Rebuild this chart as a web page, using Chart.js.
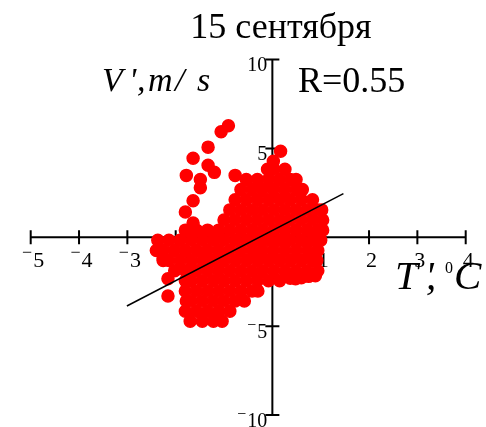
<!DOCTYPE html>
<html>
<head>
<meta charset="utf-8">
<script src="https://cdn.jsdelivr.net/npm/chart.js@4/dist/chart.umd.min.js"></script>
<style>
  html, body { margin: 0; padding: 0; background: #fff; }
  canvas { display: block; }
</style>
</head>
<body>
<canvas id="chart" width="486" height="427"></canvas>
<script>
// ticks
const xTicks = [-5, -4, -3, -2, -1, 1, 2, 3, 4];
const yTicks = [-10, -5, 5, 10];

// dense core of the cloud, one row of T' values per V' level
const rowV = [3.82, 3.25, 2.68, 2.11, 1.54, 0.97, 0.40, -0.17, -0.74, -1.31, -1.88, -2.45, -3.02, -3.59, -4.16, -4.73];
const rowT = [
  [-0.10, 0.03, 0.26],
  [-0.54, -0.31, -0.08, 0.15, 0.37, 0.49],
  [-0.65, -0.42, -0.20, 0.03, 0.26, 0.49, 0.62],
  [-0.77, -0.54, -0.31, -0.08, 0.15, 0.37, 0.60, 0.83],
  [-0.88, -0.65, -0.42, -0.20, 0.03, 0.26, 0.49, 0.72, 0.94, 1.02],
  [-1.00, -0.77, -0.54, -0.31, -0.08, 0.15, 0.37, 0.60, 0.83, 1.04],
  [-1.80, -1.57, -1.34, -1.11, -0.88, -0.65, -0.42, -0.20, 0.03, 0.26, 0.49, 0.72, 0.94, 1.04],
  [-2.37, -2.14, -1.91, -1.68, -1.45, -1.22, -1.00, -0.77, -0.54, -0.31, -0.08, 0.15, 0.37, 0.60, 0.83, 1.00],
  [-2.40, -2.25, -2.02, -1.80, -1.57, -1.34, -1.11, -0.88, -0.65, -0.42, -0.20, 0.03, 0.26, 0.49, 0.72, 0.94],
  [-2.26, -2.14, -1.91, -1.68, -1.45, -1.22, -1.00, -0.77, -0.54, -0.31, -0.08, 0.15, 0.37, 0.60, 0.83, 0.92],
  [-2.02, -1.80, -1.57, -1.34, -1.11, -0.88, -0.65, -0.42, -0.20, 0.03, 0.26, 0.49, 0.72, 0.94],
  [-1.80, -1.68, -1.45, -1.22, -1.00, -0.77, -0.54, -0.31, -0.08, 0.15],
  [-1.80, -1.57, -1.34, -1.11, -0.88, -0.65, -0.42, -0.30],
  [-1.78, -1.68, -1.45, -1.22, -1.00, -0.77, -0.58],
  [-1.80, -1.57, -1.34, -1.11, -0.88],
  [-1.70, -1.45, -1.22, -1.04]
];

// separate dots around the cloud
const looseT = [-0.91, -1.06, -1.33, -1.64, -1.33, -1.20, -1.78, -1.49, -1.49, -0.77, -1.64, -1.80, -1.64, 0.17, 0.02, -2.16, -2.16, -2.26, 0.37, 0.60, 0.48, 0.75, 0.89];
const looseV = [6.27, 5.93, 5.07, 4.44, 4.05, 3.65, 3.48, 3.25, 2.79, 3.48, 2.05, 1.42, 0.80, 4.84, 4.27, -2.34, -3.30, -1.20, -2.30, -2.28, -2.34, -2.20, -2.17];

// regression line
const fitT = [-3.01, 1.47];
const fitV = [-3.87, 2.45];

const SERIF = '"Liberation Serif", "DejaVu Serif", serif';

const cloud = [];
rowV.forEach((v, i) => rowT[i].forEach(t => cloud.push({ x: t, y: v })));
looseT.forEach((t, i) => cloud.push({ x: t, y: looseV[i] }));
const fit = fitT.map((t, i) => ({ x: t, y: fitV[i] }));

// number with a raised minus, like the original
function drawNum(ctx, val, px, base, size, align) {
  const digits = String(Math.abs(val));
  ctx.font = size + "px " + SERIF;
  const dw = ctx.measureText(digits).width;
  const mSize = Math.round(size * 0.8);
  ctx.font = mSize + "px " + SERIF;
  const mw = val < 0 ? ctx.measureText("\u2212").width + 1 : 0;
  const total = mw + dw;
  const left = align === "right" ? px - total : px - total / 2;
  ctx.textAlign = "left";
  ctx.textBaseline = "alphabetic";
  if (val < 0) ctx.fillText("\u2212", left, base - size * 0.6 + mSize * 0.25);
  ctx.font = size + "px " + SERIF;
  ctx.fillText(digits, left + mw, base);
}

const crossAxes = {
  id: "crossAxes",
  beforeDatasetsDraw(chart) {
    const { ctx, scales: { x, y } } = chart;
    const x0 = x.getPixelForValue(0);
    const y0 = y.getPixelForValue(0);
    ctx.save();
    ctx.strokeStyle = "#000";
    ctx.fillStyle = "#000";
    ctx.lineWidth = 2;
    ctx.beginPath();
    ctx.moveTo(x.getPixelForValue(x.min), y0);
    ctx.lineTo(x.getPixelForValue(x.max), y0);
    ctx.moveTo(x0, y.getPixelForValue(y.min));
    ctx.lineTo(x0, y.getPixelForValue(y.max));
    xTicks.forEach(t => {
      const px = x.getPixelForValue(t);
      ctx.moveTo(px, y0 - 7);
      ctx.lineTo(px, y0 + 7);
    });
    yTicks.forEach(t => {
      const py = y.getPixelForValue(t);
      ctx.moveTo(x0 - 7, py);
      ctx.lineTo(x0 + 7, py);
    });
    ctx.stroke();

    xTicks.forEach(t => drawNum(ctx, t, x.getPixelForValue(t) + 2.5, y0 + 29.5, 22, "center"));
    yTicks.forEach(t => drawNum(ctx, t, x0 - 5, y.getPixelForValue(t) + 11.5, 20, "right"));
    ctx.restore();
  },
  afterDatasetsDraw(chart) {
    const { ctx } = chart;
    ctx.save();
    ctx.fillStyle = "#000";
    ctx.textBaseline = "alphabetic";

    ctx.textAlign = "center";
    ctx.font = "36px " + SERIF;
    ctx.fillText("15 сентября", 281, 38);

    ctx.textAlign = "left";
    ctx.fillText("R=0.55", 298, 92);

    // V', m/s
    ctx.font = "italic 34px " + SERIF;
    ctx.fillText("V", 102, 91);
    ctx.fillText("'", 129, 91);
    ctx.fillText(",", 137, 91);
    ctx.fillText("m", 148, 91);
    ctx.fillText("/", 175, 91);
    ctx.fillText("s", 197, 91);

    // T', 0C
    ctx.font = "italic 41px " + SERIF;
    ctx.fillText("T", 395, 289);
    ctx.fillText("'", 425, 289);
    ctx.fillText(",", 426, 289);
    ctx.fillText("C", 454, 289);
    ctx.font = "16px " + SERIF;
    ctx.fillText("0", 445, 273);
    ctx.restore();
  }
};

new Chart(document.getElementById("chart"), {
  type: "scatter",
  data: {
    datasets: [
      {
        data: fit,
        showLine: true,
        borderColor: "#000",
        borderWidth: 1.5,
        pointRadius: 0
      },
      {
        data: cloud,
        backgroundColor: "#ff0000",
        borderColor: "#ff0000",
        borderWidth: 1.5,
        pointRadius: 6
      }
    ]
  },
  options: {
    responsive: false,
    animation: false,
    layout: { padding: { left: 30.7, right: 20.3, top: 59.5, bottom: 12 } },
    scales: {
      x: { type: "linear", min: -5, max: 4, display: false },
      y: { type: "linear", min: -10, max: 10, display: false }
    },
    plugins: {
      legend: { display: false },
      tooltip: { enabled: false }
    }
  },
  plugins: [crossAxes]
});
</script>
</body>
</html>
